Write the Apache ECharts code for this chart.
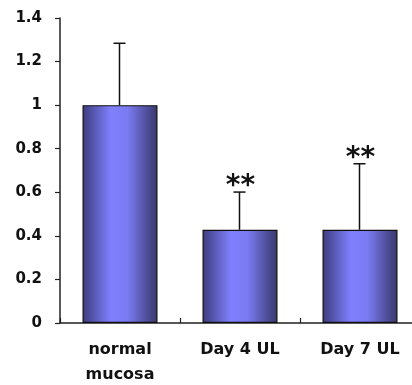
<!DOCTYPE html>
<html><head><meta charset="utf-8">
<script src="https://cdn.jsdelivr.net/npm/echarts@6/dist/echarts.min.js"></script>
<style>html,body{margin:0;padding:0;background:#fff}#c{width:412px;height:385px}</style>
</head><body><div id="c"></div>
<script>
var categories = ['normal\nmucosa', 'Day 4 UL', 'Day 7 UL'];
var means = [1.0, 0.428, 0.428];
var upper = [1.284, 0.601, 0.731];
var marks = ['', '**', '**'];
var yTicks = [0, 0.2, 0.4, 0.6, 0.8, 1, 1.2, 1.4];

var FONT = '"DejaVu Sans", "Liberation Sans", sans-serif';
var chart = echarts.init(document.getElementById('c'), null, {renderer: 'canvas'});
var errData = categories.map(function (c, i) { return [i, means[i], upper[i], marks[i]]; });

chart.setOption({
  animation: false,
  backgroundColor: '#fff',
  grid: {left: 60, top: 18, width: 360, height: 305, containLabel: false, outerBoundsMode: 'none'},
  xAxis: {
    type: 'category', data: categories,
    axisLine: {lineStyle: {color: '#222', width: 1.5}},
    axisTick: {show: true, inside: true, length: 5, alignWithLabel: false, lineStyle: {color: '#222', width: 1.2}},
    axisLabel: {color: '#111', fontFamily: FONT, fontWeight: 'bold', fontSize: 16, lineHeight: 25, margin: 14, interval: 0}
  },
  yAxis: {
    type: 'value', min: 0, max: 1.4, interval: 0.2,
    splitLine: {show: false},
    axisLine: {show: true, lineStyle: {color: '#222', width: 1.5}},
    axisTick: {show: true, inside: false, length: 5, lineStyle: {color: '#222', width: 1.2}},
    axisLabel: {color: '#111', fontFamily: FONT, fontWeight: 'bold', fontSize: 15, margin: 18,
      formatter: function (v) { var r = Math.round(v * 10) / 10; return yTicks.indexOf(r) >= 0 ? String(r) : ''; }}
  },
  series: [{
    type: 'bar', data: means, barWidth: '62.5%', z: 2,
    itemStyle: {
      borderColor: '#111', borderWidth: 1.2,
      color: new echarts.graphic.LinearGradient(0, 0, 1, 0, [
        {offset: 0, color: '#3c3c7c'},
        {offset: 0.38, color: '#8080ff'},
        {offset: 0.6, color: '#7a7af2'},
        {offset: 1, color: '#38386a'}
      ])
    }
  }, {
    type: 'custom', data: errData, z: 3,
    renderItem: function (params, api) {
      var x = api.value(0);
      var pTop = api.coord([x, api.value(2)]);
      var pBase = api.coord([x, api.value(1)]);
      var cx = Math.round(pTop[0]) - 0.5;
      var children = [
        {type: 'line', shape: {x1: cx, y1: pBase[1], x2: cx, y2: pTop[1]}, style: {stroke: '#111', lineWidth: 1.5}},
        {type: 'line', shape: {x1: cx - 6, y1: pTop[1], x2: cx + 6, y2: pTop[1]}, style: {stroke: '#111', lineWidth: 1.5}}
      ];
      var m = api.value(3);
      if (m) {
        children.push({type: 'text', style: {text: m, x: cx + 1, y: pTop[1] + 9, align: 'center', verticalAlign: 'bottom',
          font: 'bold 28px ' + FONT, fill: '#111'}});
      }
      return {type: 'group', children: children};
    }
  }]
});
</script></body></html>
